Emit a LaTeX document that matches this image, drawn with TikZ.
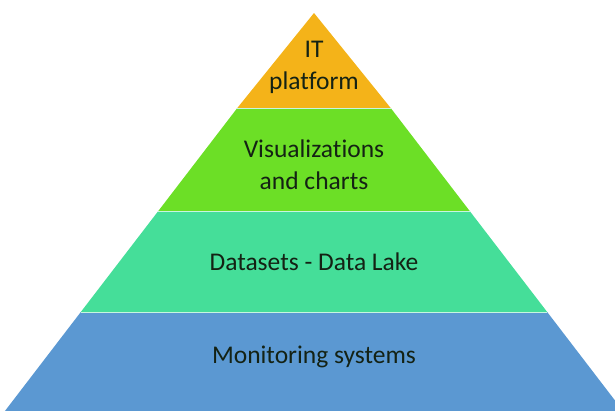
\documentclass[tikz,border=0pt]{standalone}
\usepackage{fontspec}
\setmainfont{Carlito}[Ligatures={NoCommon}]
\definecolor{lorange}{HTML}{F4B319}
\definecolor{lgreen}{HTML}{6CDF26}
\definecolor{lteal}{HTML}{45DE99}
\definecolor{lblue}{HTML}{5B98D2}
\definecolor{ltext}{HTML}{142214}
\tikzset{
  layer/.style={draw=white!70!lteal, line width=0.8pt},
  lbl/.style={font=\fontsize{25.5}{32}\selectfont, text=ltext, align=center, inner sep=0pt}
}
\begin{document}
\begin{tikzpicture}[x=1pt,y=-1pt]
\useasboundingbox (0,0) rectangle (615,410);
\clip (0,0) rectangle (615,410);
% apex (314,13), half width = (y-13)*0.767
\coordinate (A) at (314,13);
\coordinate (L1) at (237.3,108); \coordinate (R1) at (390.7,108);
\coordinate (L2) at (158.3,211); \coordinate (R2) at (469.7,211);
\coordinate (L3) at (80.8,312);  \coordinate (R3) at (547.2,312);
\coordinate (L4) at (3.4,413);   \coordinate (R4) at (624.6,413);
\fill[lorange] (A) -- (R1) -- (L1) -- cycle;
\fill[lgreen] (L1) -- (R1) -- (R2) -- (L2) -- cycle;
\fill[lteal] (L2) -- (R2) -- (R3) -- (L3) -- cycle;
\fill[lblue] (L3) -- (R3) -- (R4) -- (L4) -- cycle;
\draw[layer] (L1) -- (R1);
\draw[layer] (L2) -- (R2);
\draw[layer] (L3) -- (R3);
\node[lbl] (t1) at (314,67) {IT\\platform};
\node[lbl] (t2) at (314,165) {Visualizations\\and charts};
\node[lbl] (t3) at (314,262) {Datasets - Data Lake};
\node[lbl] (t4) at (314,357) {Monitoring systems};
\end{tikzpicture}
\end{document}
